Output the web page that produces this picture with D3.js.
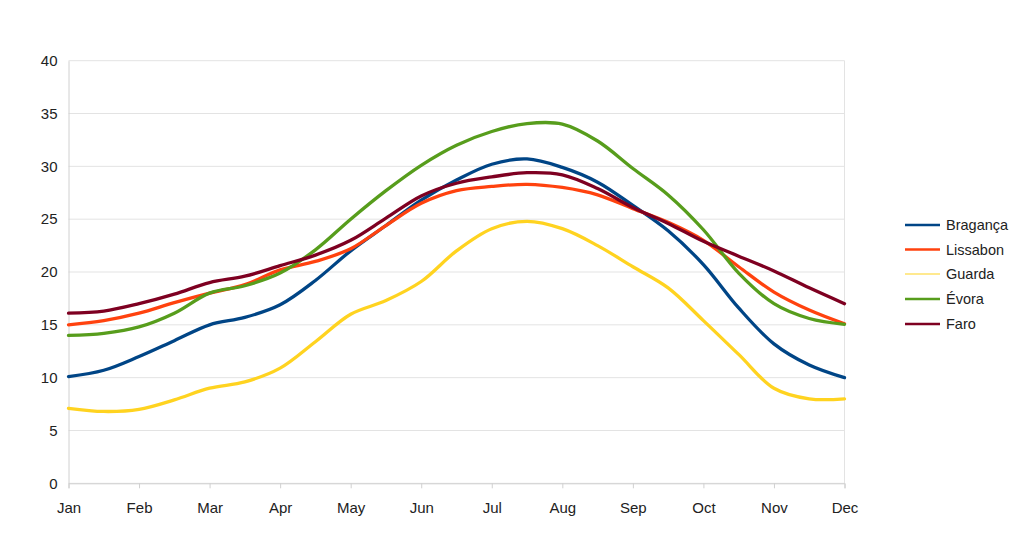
<!DOCTYPE html>
<html><head><meta charset="utf-8">
<script src="https://cdn.jsdelivr.net/npm/d3@7"></script>
<style>body{margin:0;background:#fff}svg{display:block}text{font-family:"Liberation Sans",Arial,sans-serif}</style>
</head><body><svg id="c" width="1024" height="547"></svg>
<script>
const months = ["Jan","Feb","Mar","Apr","May","Jun","Jul","Aug","Sep","Oct","Nov","Dec"];
// semi-monthly samples: Jan, mid-Jan, Feb, ... , Dec
const braganca = [10.1,10.7,12.0,13.5,15.0,15.7,16.9,19.2,22.0,24.4,26.8,28.7,30.2,30.7,29.9,28.5,26.3,23.9,20.7,16.6,13.2,11.2,10.0];
const lissabon = [15.0,15.4,16.1,17.1,18.0,18.8,20.2,21.0,22.2,24.4,26.5,27.7,28.1,28.3,28.0,27.3,26.0,24.7,23.0,20.5,18.1,16.4,15.1];
const guarda   = [7.1,6.8,7.0,7.9,9.0,9.6,10.9,13.4,16.0,17.3,19.1,22.0,24.1,24.8,24.1,22.5,20.5,18.5,15.4,12.2,9.0,8.0,8.0];
const evora    = [14.0,14.2,14.8,16.1,18.0,18.7,19.9,22.1,25.0,27.7,30.1,32.0,33.3,34.05,34.0,32.4,29.8,27.3,24.0,19.9,17.0,15.6,15.05];
const faro     = [16.1,16.3,17.0,17.9,19.0,19.6,20.6,21.6,23.0,25.1,27.2,28.4,29.0,29.4,29.2,27.9,26.1,24.6,22.9,21.5,20.1,18.5,17.0];
const seriesNames = ["Bragança","Lissabon","Guarda","Évora","Faro"];
const seriesData = [braganca, lissabon, guarda, evora, faro];
const colors = ["#004586","#ff420e","#ffd320","#579d1c","#7e0021"];
const yTicks = [0,5,10,15,20,25,30,35,40];

const svg = d3.select("#c");
const L = 68.5, R = 844.5, T = 60.7, B = 483.3;
const x = d3.scaleLinear().domain([0,11]).range([L,R]);
const y = d3.scaleLinear().domain([0,40]).range([B,T]);

// grid
svg.append("g").selectAll("line").data(yTicks).join("line")
  .attr("x1",L).attr("x2",R).attr("y1",d=>y(d)).attr("y2",d=>y(d))
  .attr("stroke","#e3e3e3").attr("stroke-width",1);
svg.append("line").attr("x1",R).attr("x2",R).attr("y1",T).attr("y2",B).attr("stroke","#e3e3e3");

// y axis
const ya = svg.append("g").attr("transform",`translate(${L},0)`)
  .call(d3.axisLeft(y).tickValues(yTicks).tickSize(0).tickPadding(11));
ya.select(".domain").attr("stroke","#d0d0d0");
ya.selectAll("text").attr("font-size",15).attr("fill","#222").style("font-family","Liberation Sans, Arial, sans-serif");

// x axis
const xa = svg.append("g").attr("transform",`translate(0,${B})`)
  .call(d3.axisBottom(x).tickValues(d3.range(12)).tickFormat(i=>months[i]).tickSize(5).tickPadding(14));
xa.select(".domain").attr("stroke","#d0d0d0");
xa.selectAll(".tick line").attr("stroke","#d0d0d0");
xa.selectAll("text").attr("font-size",15).attr("fill","#222").style("font-family","Liberation Sans, Arial, sans-serif");

// lines
const line = d3.line().x((d,i)=>x(i*0.5)).y(d=>y(d)).curve(d3.curveCatmullRom.alpha(0.5));
seriesData.forEach((s,k)=>{
  svg.append("path").datum(s).attr("d",line).attr("fill","none")
    .attr("stroke",colors[k]).attr("stroke-width",3.3)
    .attr("stroke-linejoin","round").attr("stroke-linecap","round");
});

// legend
const lg = svg.append("g");
const ly = [225,249.5,274,299,324];
seriesNames.forEach((n,k)=>{
  lg.append("line").attr("x1",905).attr("x2",940).attr("y1",ly[k]).attr("y2",ly[k])
    .attr("stroke",colors[k]).attr("stroke-width",k===2?1.2:2.5);
  lg.append("text").attr("x",946).attr("y",ly[k]).attr("dy","0.35em")
    .attr("font-size",14.5).attr("fill","#222").text(n);
});
</script></body></html>
